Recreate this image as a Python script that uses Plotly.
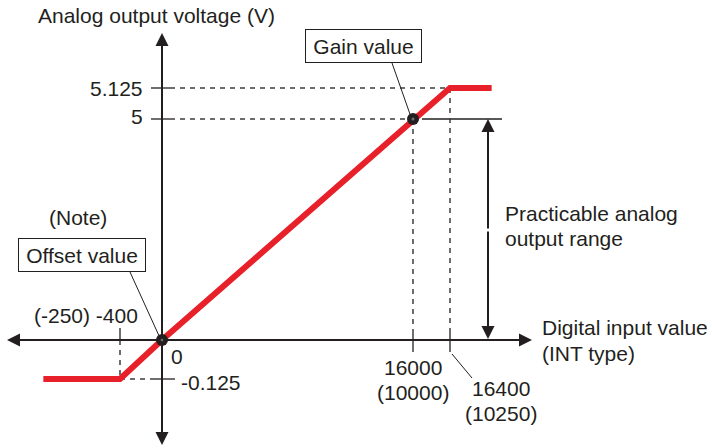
import plotly.graph_objects as go

# ---- data ----
digital_line = [-1130, -400, 0, 16000, 16400, 16850]      # digital input value (INT)
voltage_line = [-0.125, -0.125, 0, 5, 5.125, 5.125]        # analog output voltage (V)
point_digital = [0, 16000]                                 # offset / gain points
point_voltage = [0, 5]
x_tick_values = [-400, 0, 16000, 16400]
x_tick_alt = ["(-250)", "", "(10000)", "(10250)"]
y_tick_values = [-0.125, 0, 5, 5.125]
y_tick_labels = ["-0.125", "0", "5", "5.125"]

INK = "#231f20"
DASHC = "#3d3d3f"
RED = "#e8202a"
FONT = "Liberation Sans, Arial, sans-serif"
FS = 21


# schematic (broken) scale used by the diagram: the small over/under range
# parts are drawn enlarged, as in the original figure
def sx(v):
    if v <= 0:
        return v * 42 / 400
    if v <= 16000:
        return v * 251 / 16000
    return 251 + (v - 16000) * 37 / 400


def sy(v):
    if v <= 0:
        return v * 39 / 0.125
    if v <= 5:
        return v * 221 / 5
    return 221 + (v - 5) * 31 / 0.125


fig = go.Figure()

X = {v: sx(v) for v in x_tick_values}
Y = {v: sy(v) for v in y_tick_values}

shapes = []


def seg(x0, y0, x1, y1, dash=None, w=1.3):
    if dash:
        line = dict(color=DASHC, width=1.5, dash="5px,5px")
    else:
        line = dict(color=INK, width=w)
    shapes.append(dict(type="line", x0=x0, y0=y0, x1=x1, y1=y1, xref="x", yref="y",
                       line=line, layer="below"))


# guide lines
seg(8, Y[5.125], X[16400], Y[5.125], True)
seg(-11, Y[5.125], 8, Y[5.125])
seg(18, Y[5], X[16000], Y[5], True)
seg(-11, Y[5], 13, Y[5])
seg(X[16000] + 9, Y[5], 340, Y[5])
seg(X[16000], Y[5], X[16000], 10, True)
seg(X[16000], 10, X[16000], -12)
seg(X[16400], Y[5.125], X[16400], 10, True)
seg(X[16400], 10, X[16400], -12)
seg(X[16400] + 2, -14, X[16400] + 22, -38, w=1)
seg(X[-400], 12, X[-400], 0)
seg(X[-400], 0, X[-400], Y[-0.125], True)
seg(X[-400], Y[-0.125], -12, Y[-0.125], True)
seg(-12, Y[-0.125], 13, Y[-0.125])
# leader lines to boxes
seg(230, 277, 249, 223, w=1)
seg(-32, 68, -2, 2, w=1)

# red characteristic line
fig.add_trace(go.Scatter(x=[sx(v) for v in digital_line], y=[sy(v) for v in voltage_line],
                         mode="lines", line=dict(color=RED, width=6), hoverinfo="skip"))
fig.add_trace(go.Scatter(x=[sx(v) for v in point_digital], y=[sy(v) for v in point_voltage],
                         mode="markers", marker=dict(color=INK, size=12), hoverinfo="skip"))
fig.add_trace(go.Scatter(x=[sx(v) for v in point_digital], y=[sy(v) for v in point_voltage],
                         mode="markers", marker=dict(color="#6d6e70", size=3), hoverinfo="skip"))

ann = []


def arrow(x, y, ax, ay):
    ann.append(dict(x=x, y=y, ax=ax, ay=ay, xref="x", yref="y", axref="x", ayref="y",
                    text="", showarrow=True, arrowhead=2, arrowsize=1.3, arrowwidth=2,
                    arrowcolor=INK, standoff=0))


# axes
arrow(0, 307, 0, 0)
arrow(0, -105, 0, 0)
arrow(370, 0, 0, 0)
arrow(-155, 0, 0, 0)
# practicable range double arrow
arrow(326, 221, 326, 110)
arrow(326, 1, 326, 110)


def text(x, y, s, xa="center", **kw):
    d = dict(x=x, y=y, xref="x", yref="y", text=s, showarrow=False, xanchor=xa,
             yanchor="middle", font=dict(family=FONT, size=FS, color=INK))
    d.update(kw)
    ann.append(d)


text(-126, 325, "Analog output voltage (V)", "left")
text(-17, Y[5.125], y_tick_labels[3], "right")
text(-17, Y[5] + 3, y_tick_labels[2], "right")
text(14.5, -16, y_tick_labels[1])
text(17, Y[-0.125] - 3, y_tick_labels[0], "left")
text(-84, 123, "(Note)")
text(-76, 25, x_tick_alt[0] + " " + str(x_tick_values[0]))
text(X[16000], -27, str(x_tick_values[2]))
text(X[16000], -52, x_tick_alt[2])
text(339, -48, str(x_tick_values[3]))
text(339, -73, x_tick_alt[3])
text(378, 13, "Digital input value", "left")
text(378, -13, "(INT type)", "left")
text(341, 127, "Practicable analog", "left")
text(341, 102, "output range", "left")
text(201, 294, "Gain value", bordercolor=INK, borderwidth=1, borderpad=4,
     bgcolor="white", width=107, height=24)
text(-80, 85, "Offset value", bordercolor=INK, borderwidth=1, borderpad=4,
     bgcolor="white", width=118, height=24)

fig.update_layout(
    width=712, height=448, margin=dict(l=0, r=0, t=0, b=0),
    paper_bgcolor="white", plot_bgcolor="white", showlegend=False,
    xaxis=dict(range=[-162, 550], visible=False, fixedrange=True),
    yaxis=dict(range=[-108, 340], visible=False, fixedrange=True),
    shapes=shapes, annotations=ann,
)

fig.write_html("out.html", config={"displayModeBar": False},
               post_script="document.body.style.margin='0';")
